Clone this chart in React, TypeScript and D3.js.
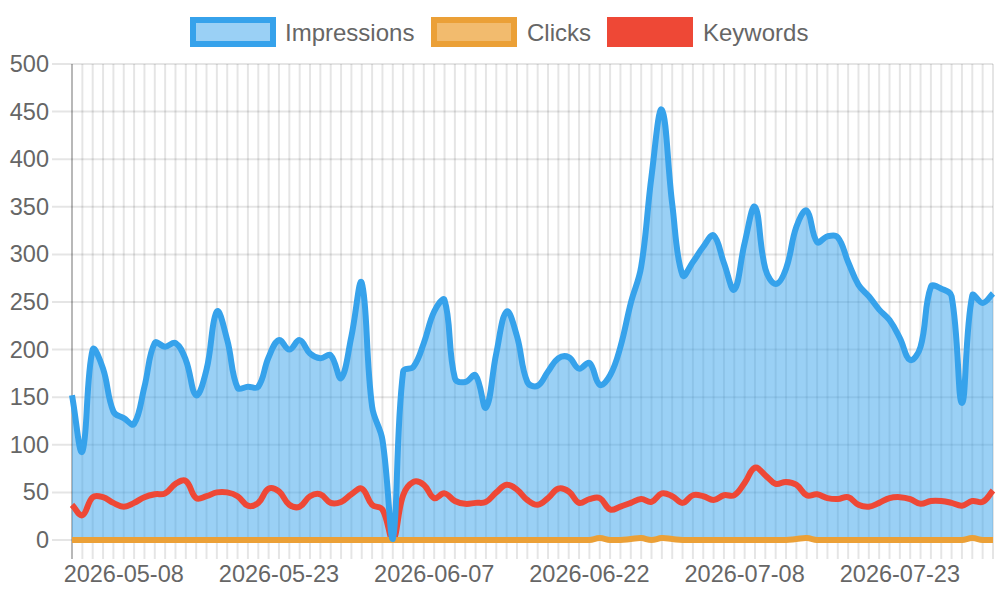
import * as d3 from "d3";

// daily categories, one day (06-30) missing in the export
const startDay = new Date(2026, 4, 3);
const endDay = new Date(2026, 7, 2);
const skippedDay = "2026-06-30";
const fmt = d3.timeFormat("%Y-%m-%d");
const dates: string[] = d3.timeDay
  .range(startDay, endDay)
  .map((d) => fmt(d))
  .filter((d) => d !== skippedDay);

const impressions = [
  152, 93, 200, 180, 135, 128, 122, 161, 207, 203, 207, 189, 152, 179, 240,
  210, 160, 161, 161, 192, 210, 200, 210, 196, 191, 194, 170, 214, 270, 140,
  105, 1, 177, 182, 207, 240, 252, 170, 166, 173, 139, 196, 240, 214, 166,
  162, 177, 191, 192, 180, 186, 163, 173, 203, 249, 287, 382, 452, 353, 278,
  292, 308, 320, 291, 263, 312, 350, 285, 269, 285, 329, 346, 313, 319, 318,
  292, 268, 256, 242, 231, 212, 189, 203, 266, 264, 256, 144, 257, 249, 259,
];

const clicks = [
  0, 0, 0, 0, 0, 0, 0, 0, 0, 0, 0, 0, 0, 0, 0,
  0, 0, 0, 0, 0, 0, 0, 0, 0, 0, 0, 0, 0, 0, 0,
  0, 0, 0, 0, 0, 0, 0, 0, 0, 0, 0, 0, 0, 0, 0,
  0, 0, 0, 0, 0, 0, 2, 0, 0, 1, 2, 0, 2, 1, 0,
  0, 0, 0, 0, 0, 0, 0, 0, 0, 0, 1, 2, 0, 0, 0,
  0, 0, 0, 0, 0, 0, 0, 0, 0, 0, 0, 0, 2, 0, 0,
];

const keywords = [
  37, 26, 45, 45, 39, 35, 39, 45, 48, 49, 59, 62, 44, 46, 50,
  50, 46, 36, 39, 54, 51, 37, 35, 46, 48, 39, 40, 48, 54, 37,
  32, 0, 47, 61, 58, 44, 49, 41, 38, 39, 40, 50, 58, 53, 42,
  37, 44, 54, 51, 39, 43, 44, 32, 35, 39, 43, 40, 49, 46, 39,
  47, 46, 42, 47, 47, 60, 76, 68, 59, 61, 58, 47, 48, 44, 43,
  45, 37, 35, 39, 44, 45, 43, 38, 41, 41, 39, 36, 41, 40, 52,
];

const yTicks = [0, 50, 100, 150, 200, 250, 300, 350, 400, 450, 500];
const labelEvery = 15;
const labelOffset = 5;

const legendItems = [
  { label: "Impressions", color: "#36A2EB", fill: "rgba(54,162,235,0.5)", x: 190, tx: 285 },
  { label: "Clicks", color: "#EBA037", fill: "rgba(242,187,110,1)", x: 431, tx: 527 },
  { label: "Keywords", color: "#EE4836", fill: "#EE4836", x: 607, tx: 703 },
];

const FONT = "'Liberation Sans', Arial, Helvetica, sans-serif";
const TENSION = 0.4;

type Pt = [number, number];

// chart.js-like spline: distance weighted control points, capped to the plot area
function splinePath(pts: Pt[], box: { l: number; r: number; t: number; b: number }, close = false) {
  const cap = (p: Pt): Pt => [
    Math.max(box.l, Math.min(box.r, p[0])),
    Math.max(box.t, Math.min(box.b, p[1])),
  ];
  const ctrl = pts.map((cur, i) => {
    const prev = pts[i - 1] ?? cur;
    const next = pts[i + 1] ?? cur;
    const d01 = Math.hypot(cur[0] - prev[0], cur[1] - prev[1]);
    const d12 = Math.hypot(next[0] - cur[0], next[1] - cur[1]);
    const s01 = d01 + d12 ? d01 / (d01 + d12) : 0;
    const s12 = d01 + d12 ? d12 / (d01 + d12) : 0;
    const fa = TENSION * s01;
    const fb = TENSION * s12;
    return {
      before: cap([cur[0] - fa * (next[0] - prev[0]), cur[1] - fa * (next[1] - prev[1])]),
      after: cap([cur[0] + fb * (next[0] - prev[0]), cur[1] + fb * (next[1] - prev[1])]),
    };
  });
  const p = d3.path();
  p.moveTo(pts[0][0], pts[0][1]);
  for (let i = 1; i < pts.length; i++) {
    const a = ctrl[i - 1].after;
    const b = ctrl[i].before;
    p.bezierCurveTo(a[0], a[1], b[0], b[1], pts[i][0], pts[i][1]);
  }
  if (close) {
    p.lineTo(pts[pts.length - 1][0], box.b);
    p.lineTo(pts[0][0], box.b);
    p.closePath();
  }
  return p.toString();
}

const App = () => {
  const left = 72;
  const right = 993;
  const top = 64;
  const bottom = 540;

  const x = d3.scaleLinear().domain([0, dates.length - 1]).range([left, right]);
  const y = d3.scaleLinear().domain([0, 500]).range([bottom, top]);
  const box = { l: left, r: right, t: top, b: bottom };

  const toPts = (vals: number[]): Pt[] => vals.map((v, i) => [x(i), y(v)]);

  return (
    <svg
      width={1000}
      height={600}
      style={{ position: "absolute", left: 0, top: 0 }}
      fontFamily={FONT}
    >
      {/* legend */}
      {legendItems.map((it) => (
        <g key={it.label}>
          <rect
            x={it.x + 3}
            y={20}
            width={80}
            height={24}
            fill={it.fill}
            stroke={it.color}
            strokeWidth={6}
          />
          <text x={it.tx} y={32} fontSize={24} fill="#666" dominantBaseline="central">
            {it.label}
          </text>
        </g>
      ))}

      {/* grid */}
      <g>
        {dates.map((d, i) =>
          i === 0 ? null : (
            <line
              key={d}
              x1={x(i)}
              x2={x(i)}
              y1={top}
              y2={bottom + 19}
              stroke="rgba(0,0,0,0.1)"
              strokeWidth={2}
            />
          )
        )}
        {yTicks.map((t) => (
          <line
            key={t}
            x1={left - 20}
            x2={right}
            y1={y(t)}
            y2={y(t)}
            stroke="rgba(0,0,0,0.1)"
            strokeWidth={2}
          />
        ))}
        <line
          x1={left}
          x2={left}
          y1={top}
          y2={bottom + 19}
          stroke="rgba(0,0,0,0.28)"
          strokeWidth={2}
        />
      </g>

      {/* y tick labels */}
      {yTicks.map((t) => (
        <text
          key={t}
          x={49}
          y={y(t)}
          fontSize={23.5}
          fill="#666"
          textAnchor="end"
          dominantBaseline="central"
        >
          {t}
        </text>
      ))}

      {/* x tick labels */}
      {dates.map((d, i) =>
        (i - labelOffset) % labelEvery === 0 && i >= labelOffset ? (
          <text
            key={d}
            x={x(i)}
            y={574}
            fontSize={23.5}
            fill="#666"
            textAnchor="middle"
            dominantBaseline="central"
          >
            {d}
          </text>
        ) : null
      )}

      {/* series */}
      <path d={splinePath(toPts(impressions), box, true)} fill="rgba(54,162,235,0.5)" />
      <path
        d={splinePath(toPts(keywords), box)}
        fill="none"
        stroke="#EE4836"
        strokeWidth={6}
        strokeLinejoin="round"
      />
      <path
        d={splinePath(toPts(clicks), box)}
        fill="none"
        stroke="#EBA037"
        strokeWidth={6}
        strokeLinejoin="round"
      />
      <path
        d={splinePath(toPts(impressions), box)}
        fill="none"
        stroke="#36A2EB"
        strokeWidth={6}
        strokeLinejoin="round"
      />
    </svg>
  );
};

export default App;
